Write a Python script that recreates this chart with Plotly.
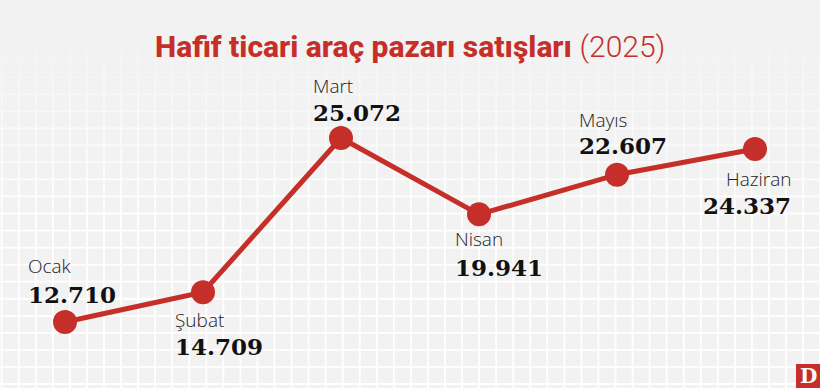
import numpy as np
import plotly.graph_objects as go

months = ["Ocak", "Şubat", "Mart", "Nisan", "Mayıs", "Haziran"]
values = [12710, 14709, 25072, 19941, 22607, 24337]
value_labels = ["12.710", "14.709", "25.072", "19.941", "22.607", "24.337"]

W, H = 820, 388
RED = "#c62f29"
BG = "#f2f2f2"

# label placement (offsets in px relative to the point)
lab_pos = [  # (xanchor, xshift, month_yshift, value_yshift)
    ("left", -39, 56, 28),
    ("left", -30, -28, -54),
    ("left", -30, 52, 26),
    ("left", -26, -25, -53),
    ("left", -40, 55, 29),
    ("right", 38, -30, -57),
]

fig = go.Figure()

# ---- background grid (pixel space on primary axes), fading toward top
step = 17.05
xs = np.arange(1.7, W + 1, step)
ys = np.arange(384.0, 15, -step)
for k, y0 in enumerate(ys):
    y1 = y0 - step
    op = float(np.clip((y0 - 18) / 200.0, 0, 1))
    if op <= 0.02:
        continue
    gx, gy = [0, W, None], [y0, y0, None]
    for x in xs:
        gx += [x, x, None]
        gy += [y0 + (step if k == 0 else 0), max(y1, 20), None]
    fig.add_trace(go.Scatter(x=gx, y=gy, mode="lines", xaxis="x", yaxis="y",
                             line=dict(color="white", width=1.8), opacity=op,
                             hoverinfo="skip", showlegend=False))

# ---- data line (overlay axes -> drawn above the grid)
fig.add_trace(go.Scatter(x=list(range(len(values))), y=values, mode="lines+markers",
                         xaxis="x2", yaxis="y2",
                         line=dict(color=RED, width=5),
                         marker=dict(size=24, color=RED),
                         hoverinfo="skip", showlegend=False))

for i, (m, v, vl) in enumerate(zip(months, values, value_labels)):
    xa, xs_, my, vy = lab_pos[i]
    fig.add_annotation(x=i, y=v, xref="x2", yref="y2", text=m, showarrow=False,
                       xanchor=xa, yanchor="middle", xshift=xs_, yshift=my,
                       font=dict(family="Open Sans", size=19, color="#222222", weight=300))
    fig.add_annotation(x=i, y=v, xref="x2", yref="y2", text=vl, showarrow=False,
                       xanchor=xa, yanchor="middle", xshift=xs_, yshift=vy,
                       font=dict(family="DejaVu Serif", size=23, color="#111111", weight="bold"))

# ---- title
fig.add_annotation(x=0.5, y=1 - 46 / H, xref="paper", yref="paper", showarrow=False,
                   xanchor="center", yanchor="middle",
                   text="Hafif ticari araç pazarı satışları <span style='font-weight:300'>(2025)</span>",
                   font=dict(family="Roboto", size=30, color=RED, weight=800))

# ---- logo
fig.add_shape(type="rect", xref="paper", yref="paper", x0=796 / W, x1=1, y0=0, y1=24 / H,
              fillcolor=RED, line=dict(width=0), layer="above")
fig.add_annotation(x=808 / W, y=12 / H, xref="paper", yref="paper", showarrow=False,
                   text="<b>D</b>", font=dict(family="DejaVu Serif", size=20, color="white"),
                   xanchor="center", yanchor="middle")

# map index 0..5 -> px 65..755 ; value 12710 -> py 322, 25072 -> py 138
px_per_idx = (755 - 65) / 5
x_lo = 0 - 65 / px_per_idx
x_hi = 5 + (W - 755) / px_per_idx
v_per_px = (25072 - 12710) / (322 - 138)
y_top = 12710 + 322 * v_per_px
y_bot = 12710 - (H - 322) * v_per_px

fig.update_layout(
    width=W, height=H, margin=dict(l=0, r=0, t=0, b=0),
    paper_bgcolor=BG, plot_bgcolor=BG,
    xaxis=dict(range=[0, W], visible=False, fixedrange=True),
    yaxis=dict(range=[H, 0], visible=False, fixedrange=True),
    xaxis2=dict(range=[x_lo, x_hi], visible=False, overlaying="x", fixedrange=True),
    yaxis2=dict(range=[y_bot, y_top], visible=False, overlaying="y", fixedrange=True),
    showlegend=False,
)

fig.write_html("out.html", config={"displayModeBar": False},
               post_script="document.body.style.margin='0';document.body.style.padding='0';")
